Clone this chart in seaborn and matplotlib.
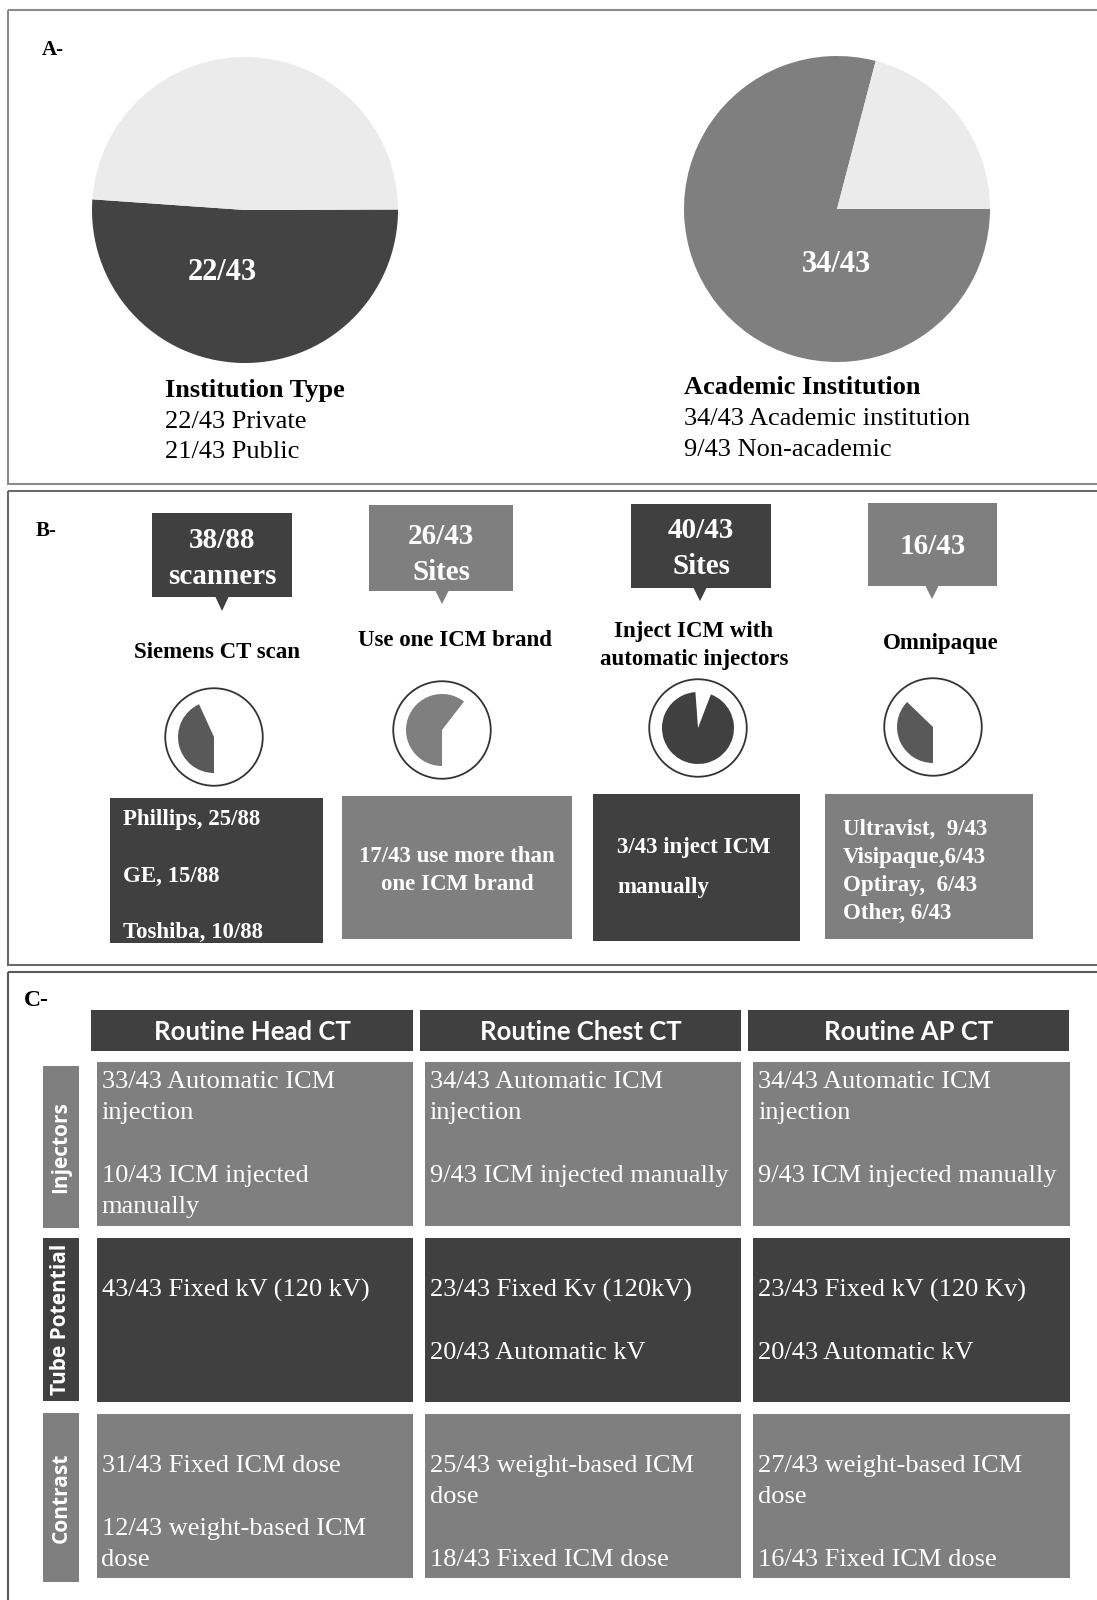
import matplotlib
matplotlib.use("Agg")
import matplotlib.pyplot as plt
from matplotlib.colors import ListedColormap
from matplotlib.patches import Rectangle, Polygon, Circle
import pandas as pd
import seaborn as sns

# ---------------- data ----------------
n_sites = 43

# Panel A
institution_types = ["Private", "Public"]
institution_counts = [22, 21]
academic_types = ["Academic institution", "Non-academic"]
academic_counts = [34, 9]

# Panel B
b_titles = ["Siemens CT scan", "Use one ICM brand",
            "Inject ICM with\nautomatic injectors", "Omnipaque"]
b_counts = [38, 26, 40, 16]
b_totals = [88, 43, 43, 43]
b_units = ["scanners", "Sites", "Sites", ""]
b_details = [
    ["Phillips, 25/88", "GE, 15/88", "Toshiba, 10/88"],
    ["17/43 use more than", "one ICM brand"],
    ["3/43 inject ICM", "manually"],
    ["Ultravist,  9/43", "Visipaque,6/43", "Optiray,  6/43", "Other, 6/43"],
]

# Panel C
protocols = ["Routine Head CT", "Routine Chest CT", "Routine AP CT"]
parameters = ["Injectors", "Tube Potential", "Contrast"]
cell_text = [
    ["33/43 Automatic ICM\ninjection\n\n10/43 ICM injected\nmanually",
     "34/43 Automatic ICM\ninjection\n\n9/43 ICM injected manually",
     "34/43 Automatic ICM\ninjection\n\n9/43 ICM injected manually"],
    ["43/43 Fixed kV (120 kV)",
     "23/43 Fixed Kv (120kV)\n\n20/43 Automatic kV",
     "23/43 Fixed kV (120 Kv)\n\n20/43 Automatic kV"],
    ["31/43 Fixed ICM dose\n\n12/43 weight-based ICM\ndose",
     "25/43 weight-based ICM\ndose\n\n18/43 Fixed ICM dose",
     "27/43 weight-based ICM\ndose\n\n16/43 Fixed ICM dose"],
]
parameter_shade = [0, 1, 0]   # 0 = mid grey, 1 = dark grey

# ---------------- style ----------------
sns.set_theme(style="white")
SERIF = ["Liberation Serif", "DejaVu Serif"]
plt.rcParams["font.family"] = SERIF

DARK = "#404040"
GRAY = "#7f7f7f"
MID = "#595959"
LIGHT = "#ebebeb"
PIE_DARK = "#434343"
WHITE = "white"

W, H = 1097, 1600
fig = plt.figure(figsize=(W / 100, H / 100), dpi=100)
fig.patch.set_facecolor("white")

bg = fig.add_axes([0, 0, 1, 1])
bg.set_xlim(0, W)
bg.set_ylim(H, 0)
bg.axis("off")


def px_axes(x0, y0, x1, y1, z=1):
    ax = fig.add_axes([x0 / W, 1 - y1 / H, (x1 - x0) / W, (y1 - y0) / H])
    ax.set_zorder(z)
    return ax


def rect(ax, x0, y0, x1, y1, **kw):
    ax.add_patch(Rectangle((x0, y0), x1 - x0, y1 - y0, **kw))


# panel frames
rect(bg, 8, 10, 1120, 484, fill=False, ec="#8c8c8c", lw=1.5)
rect(bg, 8, 491, 1120, 965, fill=False, ec="#6a6a6a", lw=1.5)
rect(bg, 8, 972, 1120, 1650, fill=False, ec="#5a5a5a", lw=1.5)

# ---------------- Panel A: pies ----------------
pie_specs = [
    (245, 210, institution_counts, [PIE_DARK, LIGHT], 176),
    (837, 209, academic_counts, [GRAY, LIGHT], 360 * academic_counts[1] / n_sites),
]
for cx, cy, vals, cols, start in pie_specs:
    r = 153
    pa = px_axes(cx - r, cy - r, cx + r, cy + r)
    pa.pie(vals, colors=cols, startangle=start, counterclock=True, radius=1,
           wedgeprops=dict(linewidth=0))
    pa.set_xlim(-1, 1)
    pa.set_ylim(-1, 1)
    pa.axis("off")

# ---------------- Panel B ----------------
callouts = [  # box x0, y0, x1, y1, pointer tip x, tip y, text y lines, colour
    (152, 513, 292, 597, 222, 611, [540, 576], DARK),
    (369, 505, 513, 591, 442, 604, [537, 573], GRAY),
    (631, 504, 771, 588, 700, 601, [530, 566], DARK),
    (868, 503, 997, 586, 932, 599, [547], GRAY),
]
for (x0, y0, x1, y1, tx, ty, tys, col) in callouts:
    rect(bg, x0, y0, x1, y1, fc=col, ec="none")
    bg.add_patch(Polygon([(tx - 7, y1 - 1), (tx + 7, y1 - 1), (tx, ty)],
                         closed=True, fc=col, ec="none"))

title_pos = [(217, [653]), (455, [640]), (694, [632, 660]), (941, [644])]

small_pies = [  # centre x, centre y, colour, startangle
    (214, 737, MID, 270),
    (442, 730, GRAY, 270),
    (698, 728, DARK, 69),
    (933, 727, MID, 270),
]
for (cx, cy, col, start), n, tot in zip(small_pies, b_counts, b_totals):
    r = 50
    pa = px_axes(cx - r, cy - r, cx + r, cy + r)
    pa.pie([n, tot - n], colors=[col, "none"], startangle=start,
           counterclock=False, radius=0.72, wedgeprops=dict(linewidth=0))
    pa.add_patch(Circle((0, 0), 0.975, fill=False, ec="#333333", lw=1.3))
    pa.set_xlim(-1, 1)
    pa.set_ylim(-1, 1)
    pa.axis("off")

detail_boxes = [  # x0, y0, x1, y1, colour, text x, align, text y lines
    (110, 798, 323, 943, DARK, 123, "left", [820, 876, 932]),
    (342, 796, 572, 939, GRAY, 457, "center", [857, 884]),
    (593, 794, 800, 941, DARK, 617, "left", [847, 888]),
    (825, 794, 1033, 939, GRAY, 843, "left", [829, 857, 885, 913]),
]
for x0, y0, x1, y1, col, *_ in detail_boxes:
    rect(bg, x0, y0, x1, y1, fc=col, ec="none")

# ---------------- Panel C ----------------
header_x = [(91, 413), (420, 741), (748, 1069)]
for hx0, hx1 in header_x:
    rect(bg, hx0, 1010, hx1, 1051, fc=DARK, ec="none")

label_y = [(1066, 1228), (1238, 1401), (1413, 1582)]
for (ly0, ly1), shade in zip(label_y, parameter_shade):
    rect(bg, 43, ly0, 79, ly1, fc=[GRAY, DARK][shade], ec="none")

grid = pd.DataFrame([[s] * len(protocols) for s in parameter_shade],
                    index=parameters, columns=protocols)
GX0, GX1, GY0, GY1 = 90.5, 1075.5, 1056, 1584
hm = px_axes(GX0, GY0, GX1, GY1)
sns.heatmap(grid, cmap=ListedColormap([GRAY, DARK]), vmin=0, vmax=1,
            cbar=False, linewidths=8.3, linecolor="white",
            xticklabels=False, yticklabels=False, ax=hm)
hm.set_axis_off()

# ---------------- text overlay ----------------
top = fig.add_axes([0, 0, 1, 1])
top.set_zorder(10)
top.set_xlim(0, W)
top.set_ylim(H, 0)
top.axis("off")
top.patch.set_alpha(0)


def txt(x, y, s, size, color="black", weight="normal", ha="left",
        family=SERIF, **kw):
    top.text(x, y, s, fontsize=size, color=color, fontweight=weight,
             ha=ha, va="center", family=family, **kw)


# panel letters
txt(42, 50, "A-", 15, weight="bold")
txt(36, 531, "B-", 15, weight="bold")
txt(24, 1000, "C-", 17, weight="bold")

# panel A captions
txt(222, 272, f"{institution_counts[0]}/{n_sites}", 22, WHITE, "bold", ha="center")
txt(836, 265, f"{academic_counts[0]}/{n_sites}", 22, WHITE, "bold", ha="center")
txt(165, 390, "Institution Type", 19, weight="bold")
for i, (lab, c) in enumerate(zip(institution_types, institution_counts)):
    txt(165, 422 + 30.5 * i, f"{c}/{n_sites} {lab}", 19)
txt(684, 387, "Academic Institution", 19, weight="bold")
for i, (lab, c) in enumerate(zip(academic_types, academic_counts)):
    txt(684, 419 + 30.5 * i, f"{c}/{n_sites} {lab}", 19)

# panel B callout numbers, titles, details
for (x0, y0, x1, y1, tx, ty, tys, col), n, tot, unit in zip(
        callouts, b_counts, b_totals, b_units):
    lines = [f"{n}/{tot}"] + ([unit] if unit else [])
    for s, yy in zip(lines, tys):
        txt((x0 + x1) / 2, yy, s, 21, WHITE, "bold", ha="center")

for (tx, tys), title in zip(title_pos, b_titles):
    for s, yy in zip(title.split("\n"), tys):
        txt(tx, yy, s, 16.5, weight="bold", ha="center")

for (x0, y0, x1, y1, col, tx, al, tys), lines in zip(detail_boxes, b_details):
    for s, yy in zip(lines, tys):
        txt(tx, yy, s, 16.5, WHITE, "bold", ha=al)

# panel C headers and row labels
for (hx0, hx1), p in zip(header_x, protocols):
    txt((hx0 + hx1) / 2, 1032, p, 18.5, WHITE, "bold", ha="center",
        family=["Lato", "DejaVu Sans"])
for (ly0, ly1), p in zip(label_y, parameters):
    txt(61, (ly0 + ly1) / 2, p, 15, WHITE, "bold", ha="center",
        family=["Open Sans", "DejaVu Sans"], rotation=90)

# panel C cell text
first_line_y = [1082, 1290, 1466]
col_w = (GX1 - GX0) / len(protocols)
for i, row in enumerate(cell_text):
    for j, s in enumerate(row):
        x = GX0 + j * col_w + 11
        for k, line in enumerate(s.split("\n")):
            if line:
                txt(x, first_line_y[i] + 31.3 * k, line, 19, WHITE)

fig.savefig("out.png", dpi=100, facecolor="white")
